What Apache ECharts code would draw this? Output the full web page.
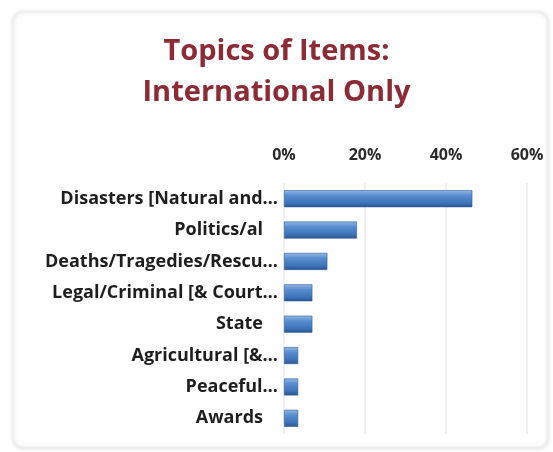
<!DOCTYPE html>
<html>
<head>
<meta charset="utf-8">
<script src="https://cdn.jsdelivr.net/npm/echarts@6/dist/echarts.min.js"></script>
<style>
  html, body { margin: 0; padding: 0; background: #ffffff; }
  #chart { width: 553px; height: 452px; }
</style>
</head>
<body>
<div id="chart"></div>
<script>
// Topic categories (top to bottom) and their share of international items, in percent
const categories = [
  'Disasters [Natural and…',
  'Politics/al',
  'Deaths/Tragedies/Rescu…',
  'Legal/Criminal [& Court…',
  'State',
  'Agricultural [&…',
  'Peaceful…',
  'Awards'
];
const shares = [46.5, 18, 10.7, 7, 7, 3.5, 3.5, 3.5];
const titleLines = ['Topics of Items:', 'International Only'];

const FONT = '"Open Sans", Lato, sans-serif';

const chart = echarts.init(document.getElementById('chart'), null, { renderer: 'canvas' });

chart.setOption({
  animation: false,
  backgroundColor: '#ffffff',
  graphic: [{
    type: 'rect',
    z: -10,
    shape: { x: 13, y: 12, width: 535, height: 436, r: 10 },
    style: {
      fill: '#fefefe',
      stroke: '#efefef',
      lineWidth: 3,
      shadowBlur: 4,
      shadowColor: 'rgba(0,0,0,0.06)'
    }
  }],
  title: {
    text: titleLines.join('\n'),
    left: 'center',
    top: 26,
    textStyle: {
      fontFamily: FONT,
      fontWeight: 'bold',
      fontSize: 29,
      lineHeight: 41,
      color: '#8c2a36'
    }
  },
  grid: { left: 284, right: 26, top: 183, bottom: 18, containLabel: false },
  xAxis: {
    type: 'value',
    position: 'top',
    min: 0,
    max: 60,
    interval: 20,
    axisLine: { show: false },
    axisTick: { show: false },
    axisLabel: {
      formatter: '{value}%',
      margin: 20,
      fontFamily: FONT,
      fontWeight: 'bold',
      fontSize: 16,
      color: '#2b2b2b'
    },
    splitLine: { lineStyle: { color: '#f0f0f0', width: 2 } }
  },
  yAxis: {
    type: 'category',
    inverse: true,
    data: categories,
    axisLine: { show: false },
    axisTick: { show: false },
    axisLabel: {
      margin: 6,
      fontFamily: FONT,
      fontWeight: 'bold',
      fontSize: 18,
      color: '#1e1e1e',
      formatter: function (v) {
        return v.endsWith('…') ? v : '{pad|' + v + '}';
      },
      rich: {
        pad: {
          fontFamily: FONT,
          fontWeight: 'bold',
          fontSize: 18,
          color: '#1e1e1e',
          padding: [0, 15, 0, 0]
        }
      }
    }
  },
  series: [{
    type: 'bar',
    data: shares,
    barWidth: 17,
    itemStyle: {
      borderColor: '#2f5e9c',
      borderWidth: 0.6,
      color: new echarts.graphic.LinearGradient(0, 0, 0, 1, [
        { offset: 0, color: '#95b9e6' },
        { offset: 0.3, color: '#5a8ed0' },
        { offset: 0.75, color: '#3e73b8' },
        { offset: 1, color: '#2a548e' }
      ])
    }
  }]
});
</script>
</body>
</html>
